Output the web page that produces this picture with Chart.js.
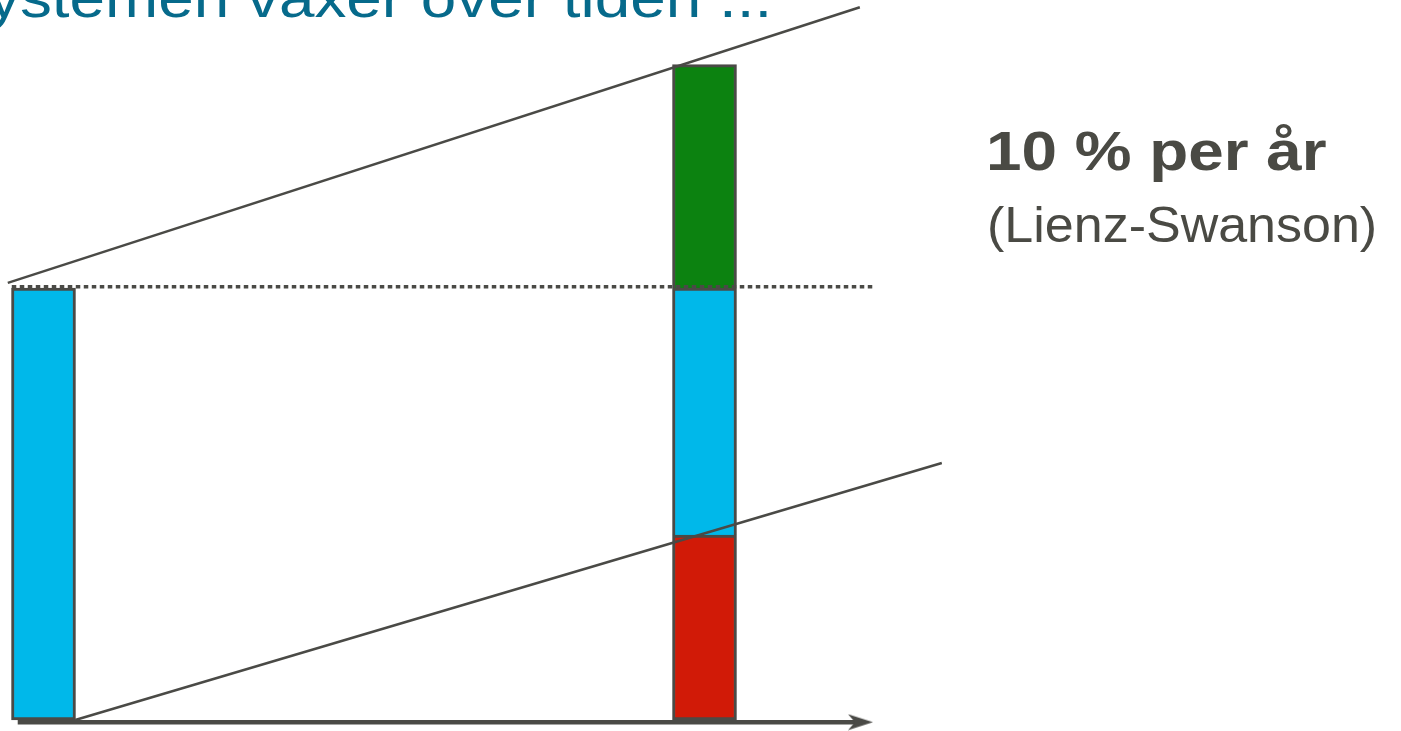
<!DOCTYPE html>
<html>
<head>
<meta charset="utf-8">
<script src="https://cdn.jsdelivr.net/npm/chart.js@4.4.1/dist/chart.umd.min.js"></script>
<style>
  html, body { margin: 0; padding: 0; background: #ffffff; overflow: hidden; }
  #wrap { position: relative; width: 1401px; height: 731px; overflow: hidden; }
  #c { position: absolute; left: 0; top: 0; }
  .txt { position: absolute; white-space: nowrap; line-height: 1; font-family: "Liberation Sans", Arial, sans-serif; transform-origin: 0 0; }
  #title { left: -12px; top: -30px; font-size: 56px; color: #066a8b; transform: scaleX(1.14); }
  #rate { left: 986px; top: 123px; font-size: 56px; font-weight: bold; color: #4a4a44; transform: scaleX(1.14); }
  #src { left: 987px; top: 200px; font-size: 50px; color: #4a4a44; transform: scaleX(1.04); }
</style>
</head>
<body>
<div id="wrap">
  <canvas id="c" width="1401" height="731"></canvas>
  <div class="txt" id="title">ystemen växer över tiden ...</div>
  <div class="txt" id="rate">10 % per år</div>
  <div class="txt" id="src">(Lienz-Swanson)</div>
</div>
<script>
// ---- data ----
// time positions of the two bars (start, later)
const periods = [0, 1];
// left bar: original system size; right bar stacked segments
const blueValues  = [100, 57.2];   // original / still-used part
const redValues   = [null, 42.8];  // removed part (bottom of right bar)
const greenValues = [null, 51.7];  // added part (top of right bar)

// trend lines and reference level
const upperTrendX = [-0.054, 1.235];
const upperTrendY = [101.2, 165.0];
const lowerTrendX = [0.048, 1.359];
const lowerTrendY = [0, 59.5];
const levelX = [-0.048, 1.254];
const levelY = [100.3, 100.3];
const timeAxisX = [-0.039, 1.2352];
const timeAxisY = [-0.5, -0.5];

const toPts = (xs, ys) => xs.map((x, i) => ({ x: x, y: ys[i] }));
const barPts = (vals) => periods.map((p, i) => ({ x: p, y: vals[i] })).filter(d => d.y !== null);

// arrow head image for the time axis
const arrow = document.createElement('canvas');
arrow.width = 26; arrow.height = 17;
(function () {
  const g = arrow.getContext('2d');
  g.fillStyle = '#4a4a46';
  g.beginPath();
  g.moveTo(26, 8.5); g.lineTo(1, 0.5); g.lineTo(8, 8.5); g.lineTo(1, 16.5);
  g.closePath(); g.fill();
})();

const EDGE = '#4a4a46';

new Chart(document.getElementById('c'), {
  data: {
    datasets: [
      { type: 'line', stack: 'axis', data: toPts(timeAxisX, timeAxisY), borderColor: EDGE, borderWidth: 4.5,
        pointRadius: [0, 10], pointStyle: [false, arrow], pointBorderWidth: 0, order: 0, clip: false },
      { type: 'line', stack: 'up', data: toPts(upperTrendX, upperTrendY), borderColor: EDGE, borderWidth: 2.5,
        pointRadius: 0, order: 0, clip: false },
      { type: 'line', stack: 'low', data: toPts(lowerTrendX, lowerTrendY), borderColor: EDGE, borderWidth: 2.5,
        pointRadius: 0, order: 0, clip: false },
      { type: 'line', stack: 'lvl', data: toPts(levelX, levelY), borderColor: EDGE, borderWidth: 3.5,
        borderDash: [4.5, 3.5], borderCapStyle: 'butt', pointRadius: 0, order: 0, clip: false },
      { type: 'bar', stack: 'bars', data: barPts(redValues), backgroundColor: '#d11a07', borderColor: EDGE,
        borderWidth: 3, borderSkipped: false, barThickness: 64, order: 1 },
      { type: 'bar', stack: 'bars', data: barPts(blueValues), backgroundColor: '#00b8ea', borderColor: EDGE,
        borderWidth: 3, borderSkipped: (ctx) => (ctx.dataIndex === 1 ? 'start' : false), barThickness: 64, order: 1 },
      { type: 'bar', stack: 'bars', data: barPts(greenValues), backgroundColor: '#0c8210', borderColor: EDGE,
        borderWidth: 3, borderSkipped: 'start', barThickness: 64, order: 1 }
    ]
  },
  options: {
    responsive: false,
    animation: false,
    layout: { padding: 0, autoPadding: false },
    plugins: { legend: { display: false }, tooltip: { enabled: false }, title: { display: false } },
    scales: {
      x: { type: 'linear', min: -0.06581, max: 2.05371, display: false, offset: false },
      y: { type: 'linear', min: -2.546, max: 166.667, display: false, stacked: true }
    }
  }
});
</script>
</body>
</html>
